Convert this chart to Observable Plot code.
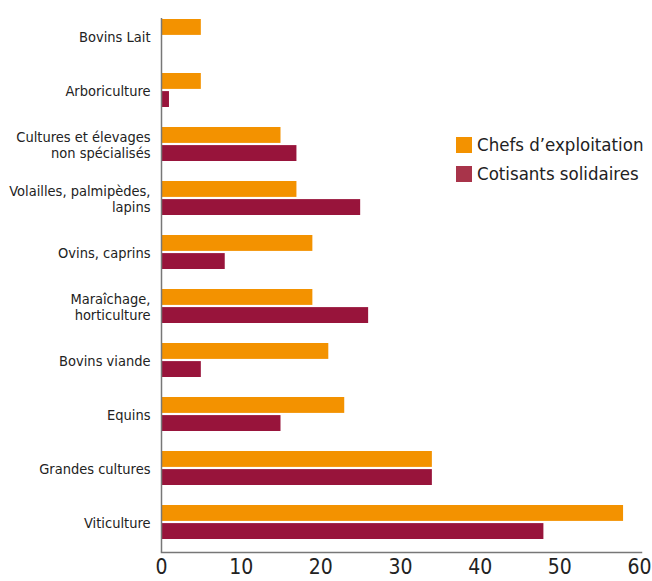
<!DOCTYPE html>
<html>
<head>
<meta charset="utf-8">
<script src="https://cdn.jsdelivr.net/npm/d3@7"></script>
<script src="https://cdn.jsdelivr.net/npm/@observablehq/plot@0.6"></script>
<style>
  html, body { margin: 0; padding: 0; background: #fff; }
  #wrap { position: relative; width: 652px; height: 581px; font-family: "DejaVu Sans", sans-serif; font-stretch: condensed; }
  #chart svg text { font-stretch: condensed; }
  #legend { position: absolute; left: 456px; top: 130px; color: #222; font-size: 18.5px; line-height: 29px; font-stretch: condensed; }
  #legend div { display: flex; align-items: center; white-space: nowrap; }
  #legend span.sw { display: inline-block; width: 16px; height: 16px; margin-right: 5px; }
</style>
</head>
<body>
<div id="wrap"><div id="chart"></div><div id="legend"></div></div>
<script>
const categories = [
  "Bovins Lait",
  "Arboriculture",
  "Cultures et élevages\nnon spécialisés",
  "Volailles, palmipèdes,\nlapins",
  "Ovins, caprins",
  "Maraîchage,\nhorticulture",
  "Bovins viande",
  "Equins",
  "Grandes cultures",
  "Viticulture"
];
const seriesNames = ["Chefs d’exploitation", "Cotisants solidaires"];
const chefs =     [5, 5, 15, 17, 19, 19, 21, 23, 34, 58];
const cotisants = [0, 1, 17, 25, 8, 26, 5, 15, 34, 48];
const xTicks = [0, 10, 20, 30, 40, 50, 60];
const colors = ["#F39200", "#98143B"];
const swatchColors = ["#F39200", "#A8344A"];

const chefsData = categories.map((c, i) => ({category: c, series: seriesNames[0], value: chefs[i]}));
const cotisData = categories.map((c, i) => ({category: c, series: seriesNames[1], value: cotisants[i]}));

const chart = Plot.plot({
  width: 652,
  height: 581,
  marginLeft: 161,
  marginRight: 13,
  marginTop: 7,
  marginBottom: 29,
  style: {fontFamily: "'DejaVu Sans', sans-serif", color: "#222", background: "#fff"},
  x: {domain: [0, 60], ticks: xTicks, label: null},
  y: {domain: categories, paddingInner: 0.364, paddingOuter: 0.174, label: null},
  color: {domain: seriesNames, range: colors},
  marks: [
    Plot.barX(chefsData, {y: "category", x: "value", fill: "series", insetBottom: 18.1}),
    Plot.barX(cotisData, {y: "category", x: "value", fill: "series", insetTop: 18.1}),
    Plot.axisY({anchor: "left", tickSize: 0, tickPadding: 11, fontSize: 14.5, lineHeight: 1.15, label: null}),
    Plot.axisX({ticks: xTicks, tickSize: 0, tickPadding: 7, fontSize: 21, label: null}),
    Plot.ruleX([0], {stroke: "#777", strokeWidth: 1.5, insetTop: 11}),
    Plot.frame({anchor: "bottom", stroke: "#777", strokeWidth: 1.5, insetRight: -2})
  ]
});
document.getElementById("chart").appendChild(chart);

const legend = document.getElementById("legend");
seriesNames.forEach((s, i) => {
  const row = document.createElement("div");
  row.innerHTML = `<span class="sw" style="background:${swatchColors[i]}"></span>${s}`;
  legend.appendChild(row);
});
</script>
</body>
</html>
